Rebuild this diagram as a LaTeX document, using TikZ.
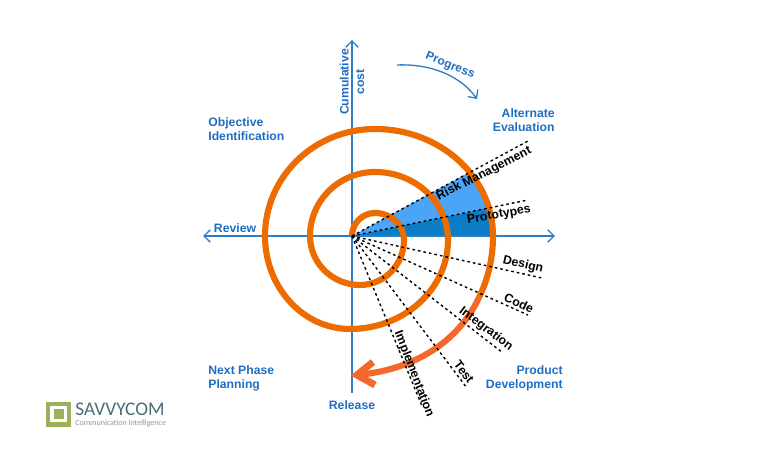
\documentclass[tikz,border=0pt]{standalone}
\usepackage{xcolor}
\usepackage{fontspec}
\setmainfont{Liberation Sans}
\newfontfamily\logofont{Carlito}
\usetikzlibrary{arrows.meta}
\definecolor{SpiralOrange}{HTML}{EC6C00}
\definecolor{ArrowOrange}{HTML}{F4692B}
\definecolor{AxisBlue}{HTML}{2F7DC8}
\definecolor{LabelBlue}{HTML}{1E6EC4}
\definecolor{RiskBlue}{HTML}{4CA4F6}
\definecolor{ProtoBlue}{HTML}{0A7DC6}
\definecolor{LogoGreen}{HTML}{9DB05C}
\definecolor{LogoSlate}{HTML}{4B6C7A}
\definecolor{LogoGrey}{HTML}{8A979E}
\tikzset{
  axisline/.style={AxisBlue,line width=0.75pt,-{Straight Barb[length=3.6pt,width=7pt]}},
  spiral/.style={line width=3.5pt},
  rayline/.style={black,line width=0.8pt,dash pattern=on 1.5pt off 1.7pt},
  quadlabel/.style={LabelBlue,inner sep=0pt,font=\bfseries\fontsize{6.95}{8.1}\selectfont},
  phaselabel/.style={black,font=\bfseries\fontsize{7}{8}\selectfont},
}
\begin{document}
\begin{tikzpicture}[x=1cm,y=1cm]
\path[use as bounding box] (0,0) rectangle (15.36,9.22);
\coordinate (origin) at (7.04,4.50);
\coordinate (axisTop) at (7.04,8.42);
\coordinate (axisBottom) at (7.04,1.36);
\coordinate (axisLeft) at (4.06,4.50);
\coordinate (axisRight) at (11.10,4.50);
\coordinate (riskHit) at (9.36,5.76);
\coordinate (protoHit) at (9.76,5.06);
\coordinate (protoBase) at (9.86,4.50);
\coordinate (arrowSplit) at (9.58,3.27);
\coordinate (arrowTip) at (7.14,1.72);
\coordinate (progressStart) at (7.94,7.92);
\coordinate (progressEnd) at (9.54,7.24);
% wedges
\fill[RiskBlue] (origin) -- (riskHit) .. controls (9.55,5.50) and (9.68,5.30) .. (protoHit) -- cycle;
\fill[ProtoBlue] (origin) -- (protoHit) .. controls (9.82,4.88) and (9.86,4.70) .. (protoBase) -- cycle;
% axes
\draw[axisline] (axisBottom) -- (axisTop);
\draw[axisline] (origin) -- (axisLeft);
\draw[axisline] (origin) -- (axisRight);
% spiral
\draw[spiral,SpiralOrange,line join=round] (origin)
  arc[start angle=180,end angle=90,x radius=0.46,y radius=0.46]
  arc[start angle=90,end angle=0,x radius=0.58,y radius=0.54]
  arc[start angle=0,end angle=-90,x radius=0.88,y radius=0.90]
  arc[start angle=-90,end angle=-180,x radius=1.00,y radius=0.98]
  arc[start angle=180,end angle=90,x radius=1.30,y radius=1.28]
  arc[start angle=90,end angle=0,x radius=1.46,y radius=1.36]
  arc[start angle=0,end angle=-90,x radius=1.96,y radius=1.78]
  arc[start angle=-90,end angle=-180,x radius=1.70,y radius=1.86]
  arc[start angle=180,end angle=90,x radius=2.20,y radius=2.14]
  arc[start angle=90,end angle=0,x radius=2.36,y radius=2.14]
  .. controls (9.86,4.05) and (9.76,3.64) .. (arrowSplit);
\draw[spiral,ArrowOrange] (arrowSplit) .. controls (9.16,2.37) and (8.27,1.82) .. (arrowTip);
\draw[ArrowOrange,line width=4pt,line join=miter] (7.46,1.98) -- (arrowTip) -- (7.50,1.52);
% rays
\foreach \rayname/\rayx/\rayy in {risk/10.56/6.40,proto/10.56/5.22,design/10.84/3.66,code/10.56/2.92,integration/10.06/2.16,test/9.34/1.46,impl/8.44/1.10} {
  \coordinate (\rayname End) at (\rayx,\rayy);
  \draw[rayline] (origin) -- (\rayname End);
}
% progress
\draw[axisline] (progressStart) .. controls (8.70,7.95) and (9.25,7.65) .. (progressEnd);
\node[rotate=-22,LabelBlue,font=\bfseries\fontsize{6.8}{8}\selectfont] (progress) at (9.00,7.90) {Progress};
% quadrant labels
\node[quadlabel,rotate=90,align=center,font=\bfseries\fontsize{6.95}{8.7}\selectfont] (cost) at (7.04,7.58) {Cumulative\\cost};
\node[quadlabel,anchor=west,align=left] (objective) at (4.16,6.64) {Objective\\Identification};
\node[quadlabel,anchor=east,align=right] (alternate) at (11.10,6.82) {Alternate\\Evaluation};
\node[quadlabel,anchor=west,align=left] (nextphase) at (4.16,1.66) {Next Phase\\Planning};
\node[quadlabel,anchor=east,align=right] (product) at (11.26,1.66) {Product\\Development};
\node[quadlabel] (review) at (4.70,4.66) {Review};
\node[quadlabel] (release) at (7.04,1.12) {Release};
% ray labels
\node[phaselabel,rotate=27] (risklabel) at (9.68,5.74) {Risk Management};
\node[phaselabel,rotate=10] (protolabel) at (9.98,4.92) {Prototypes};
\node[phaselabel,rotate=-13] (designlabel) at (10.46,3.92) {Design};
\node[phaselabel,rotate=-25] (codelabel) at (10.38,3.16) {Code};
\node[phaselabel,rotate=-37] (integrationlabel) at (9.72,2.64) {Integration};
\node[phaselabel,rotate=-53] (testlabel) at (9.28,1.78) {Test};
\node[phaselabel,rotate=-69] (impllabel) at (8.28,1.74) {Implementation};
% logo
\fill[LogoGreen] (0.92,0.68) rectangle (1.41,1.18);
\fill[white] (1.00,0.77) rectangle (1.33,1.09);
\fill[LogoGreen] (1.07,0.83) rectangle (1.27,1.03);
\node[anchor=west,inner sep=0pt,LogoSlate,font=\logofont\fontsize{11}{12}\selectfont] (savvycom) at (1.50,1.03) {SAVVYCOM};
\node[anchor=west,inner sep=0pt,LogoGrey,font=\logofont\fontsize{4.55}{5}\selectfont] (tagline) at (1.50,0.75) {Communication Intelligence};
\end{tikzpicture}
\end{document}
